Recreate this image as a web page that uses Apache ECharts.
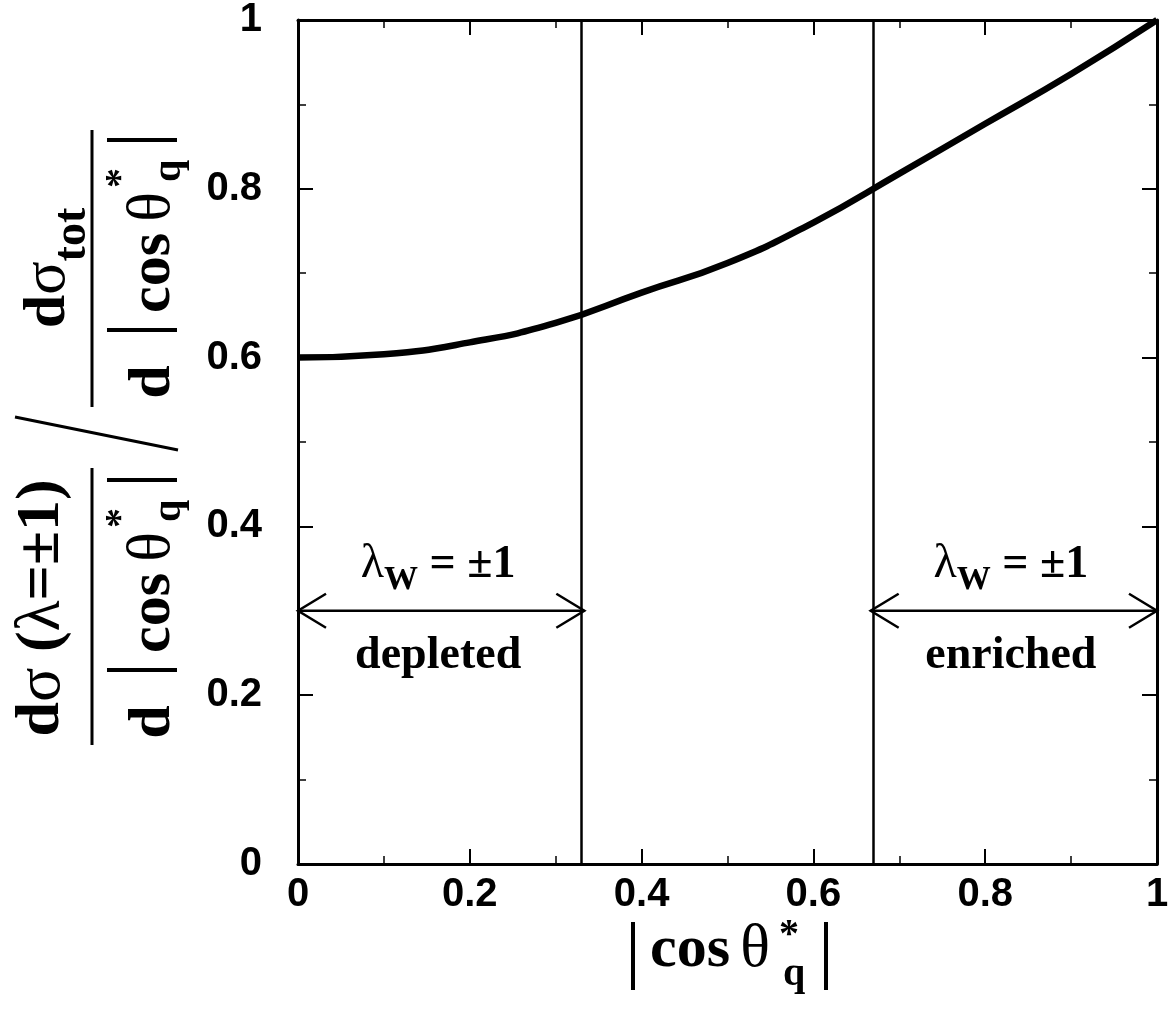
<!DOCTYPE html>
<html>
<head>
<meta charset="utf-8">
<script src="https://cdn.jsdelivr.net/npm/echarts@6/dist/echarts.min.js"></script>
<style>
  html, body { margin: 0; padding: 0; background: #fff; }
  #chart { width: 1172px; height: 1010px; }
</style>
</head>
<body>
<div id="chart"></div>
<script>
// ---- data ----
var xValues = [0, 0.1, 0.2, 0.3, 0.4, 0.5, 0.6, 0.7, 0.8, 0.9, 1.0];
var yValues = [0.600, 0.604, 0.618, 0.641, 0.677, 0.712, 0.760, 0.818, 0.877, 0.936, 1.000];
var xTickLabels = ['0', '0.2', '0.4', '0.6', '0.8', '1'];
var yTickLabels = ['0', '0.2', '0.4', '0.6', '0.8', '1'];
var dividers = [1 / 3, 2 / 3];
var arrowStart = [0, 2 / 3];
var arrowEnd = [1 / 3, 1];
var arrowLevel = [0.3, 0.3];
var arrowTopLabels = ['{g|λ}{s|W}{m| = ±1}', '{g|λ}{s|W}{m| = ±1}'];
var arrowBottomLabels = ['depleted', 'enriched'];

var SERIF = '"Liberation Serif", "Times New Roman", serif';
var SANS = '"Liberation Sans", Arial, sans-serif';

var chart = echarts.init(document.getElementById('chart'), null, { renderer: 'canvas' });

function tickFmt(list) {
  return function (v) {
    var i = Math.round(v / 0.2);
    return (Math.abs(v - i * 0.2) < 1e-6 && list[i] !== undefined) ? list[i] : '';
  };
}

function axisCommon(showLabel, labels, isY) {
  return {
    type: 'value', min: 0, max: 1, interval: 0.2,
    axisLine: { show: true, onZero: false, lineStyle: { color: '#000', width: 3 } },
    axisTick: { show: true, inside: true, length: 15, lineStyle: { color: '#000', width: 2 } },
    minorTick: { show: true, splitNumber: 2, length: 8, lineStyle: { color: '#000', width: 1.5 } },
    splitLine: { show: false },
    minorSplitLine: { show: false },
    axisLabel: {
      show: showLabel,
      margin: isY ? 36 : 11,
      color: '#000', fontFamily: SANS, fontWeight: 'bold', fontSize: 40,
      formatter: labels ? tickFmt(labels) : undefined
    }
  };
}

var xBottom = axisCommon(true, xTickLabels, false); xBottom.position = 'bottom';
var xTop = axisCommon(false, null, false); xTop.position = 'top';
var yLeft = axisCommon(true, yTickLabels, true); yLeft.position = 'left';
var yRight = axisCommon(false, null, true); yRight.position = 'right';

// ---- axis-title helpers (layout only) ----
function rt(x, y, text, size, weight, extra) {
  var el = {
    type: 'text', x: x, y: y, rotation: Math.PI / 2, z: 10,
    style: {
      text: text, fill: '#000', align: 'center', verticalAlign: 'middle',
      font: (weight || 'bold') + ' ' + size + 'px ' + SERIF
    }
  };
  if (extra) for (var k in extra) el.style[k] = extra[k];
  return el;
}
function ht(x, y, text, size, weight) {
  var el = rt(x, y, text, size, weight);
  el.rotation = 0;
  return el;
}
function ln(x1, y1, x2, y2, w) {
  return { type: 'line', z: 10, shape: { x1: x1, y1: y1, x2: x2, y2: y2 }, style: { stroke: '#000', lineWidth: w } };
}

var richMain = {
  m: { fontFamily: SERIF, fontWeight: 'bold', fontSize: 60, lineHeight: 96, fill: '#000' },
  g: { fontFamily: SERIF, fontWeight: 'normal', fontSize: 62, lineHeight: 96, fill: '#000' },
  s: { fontFamily: SERIF, fontWeight: 'bold', fontSize: 46, lineHeight: 46, verticalAlign: 'bottom', fill: '#000' }
};

function denominator(dy) {
  return [
    rt(153, 382 + dy, 'd', 60),
    ln(107, 140 + dy, 177, 140 + dy, 4),
    ln(107, 330 + dy, 177, 330 + dy, 4),
    rt(153, 273 + dy, 'cos', 60),
    rt(153, 207 + dy, 'θ', 62, 'normal'),
    rt(122, 178 + dy, '*', 40),
    rt(170, 171 + dy, 'q', 40)
  ];
}

var graphics = [];
// upper fraction
graphics.push(rt(48, 268, '{m|d}{g|σ}{s|tot}', 60, 'bold', { rich: richMain }));
graphics.push(ln(92, 130, 92, 407, 3));
graphics = graphics.concat(denominator(0));
// slash
graphics.push(ln(15, 417, 178, 450, 3));
// lower fraction
graphics.push(rt(42, 608, '{m|d}{g|σ}{m| (}{g|λ}{m|=±1)}', 60, 'bold', { rich: {
  m: { fontFamily: SERIF, fontWeight: 'bold', fontSize: 62, fill: '#000' },
  g: { fontFamily: SERIF, fontWeight: 'normal', fontSize: 64, fill: '#000' }
} }));
graphics.push(ln(92, 468, 92, 745, 3));
graphics = graphics.concat(denominator(340));
// x-axis title |cos θ*_q|
graphics.push(ln(633, 922, 633, 990, 4));
graphics.push(ln(826, 922, 826, 990, 4));
graphics.push(ht(690, 950, 'cos', 60));
graphics.push(ht(755, 950, 'θ', 62, 'normal'));
graphics.push(ht(789, 936, '*', 40));
graphics.push(ht(794, 975, 'q', 40));

var arrowData = arrowStart.map(function (s, i) { return [s, arrowEnd[i], arrowLevel[i], i]; });

function renderArrow(params, api) {
  var x0 = api.value(0), x1 = api.value(1), y = api.value(2), idx = api.value(3);
  var p0 = api.coord([x0, y]);
  var p1 = api.coord([x1, y]);
  var hl = 28, hw = 17;
  var cx = (p0[0] + p1[0]) / 2;
  var stroke = { stroke: '#000', lineWidth: 2.5, fill: null };
  return {
    type: 'group',
    children: [
      { type: 'line', shape: { x1: p0[0], y1: p0[1], x2: p1[0], y2: p1[1] }, style: stroke },
      { type: 'polyline', shape: { points: [[p0[0] + hl, p0[1] - hw], [p0[0], p0[1]], [p0[0] + hl, p0[1] + hw]] }, style: stroke },
      { type: 'polyline', shape: { points: [[p1[0] - hl, p1[1] - hw], [p1[0], p1[1]], [p1[0] - hl, p1[1] + hw]] }, style: stroke },
      {
        type: 'text', x: cx - 3, y: p0[1] - 46,
        style: {
          text: arrowTopLabels[idx], fill: '#000', align: 'center', verticalAlign: 'middle',
          font: 'bold 46px ' + SERIF,
          rich: {
            m: { fontFamily: SERIF, fontWeight: 'bold', fontSize: 46, lineHeight: 64, fill: '#000' },
            g: { fontFamily: SERIF, fontWeight: 'normal', fontSize: 48, lineHeight: 64, fill: '#000' },
            s: { fontFamily: SERIF, fontWeight: 'bold', fontSize: 34, lineHeight: 34, verticalAlign: 'bottom', fill: '#000' }
          }
        }
      },
      {
        type: 'text', x: cx - 3, y: p0[1] + 45,
        style: {
          text: arrowBottomLabels[idx], fill: '#000', align: 'center', verticalAlign: 'middle',
          font: 'bold 46px ' + SERIF
        }
      }
    ]
  };
}

var option = {
  backgroundColor: '#fff',
  animation: false,
  grid: { left: 298, right: 15, top: 19, bottom: 146, containLabel: false },
  xAxis: [xBottom, xTop],
  yAxis: [yLeft, yRight],
  graphic: graphics,
  series: [
    {
      type: 'line',
      data: xValues.map(function (x, i) { return [x, yValues[i]]; }),
      smooth: 0.5,
      showSymbol: false,
      symbol: 'none',
      clip: false,
      lineStyle: { color: '#000', width: 6.5 },
      z: 5,
      markLine: {
        silent: true,
        symbol: ['none', 'none'],
        label: { show: false },
        lineStyle: { color: '#000', width: 2.5, type: 'solid' },
        data: dividers.map(function (d) { return { xAxis: d }; })
      }
    },
    {
      type: 'custom',
      renderItem: renderArrow,
      data: arrowData,
      clip: false,
      z: 6
    }
  ]
};
chart.setOption(option);
</script>
</body>
</html>
